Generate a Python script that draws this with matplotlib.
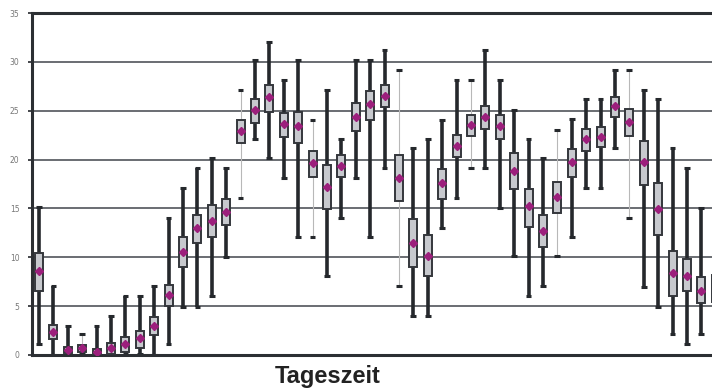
import numpy as np
import matplotlib.pyplot as plt

# half-hour slots of the day
slots = np.arange(1, 49)

whisker_lo = [1.1, 0.0, 0.0, 0.1, 0.0, 0.1, 0.2, 0.1, 0.0, 1.1,
              4.9, 4.9, 6.0, 10.0, 16.1, 22.1, 20.2, 18.1, 12.1, 12.1,
              8.1, 14.0, 18.1, 12.1, 19.1, 7.1, 4.0, 4.0, 13.0, 16.1,
              19.1, 19.1, 15.0, 10.1, 6.0, 7.1, 10.1, 12.1, 17.1, 17.1,
              21.2, 14.0, 7.0, 4.9, 2.1, 1.1, 2.1, 1.5]
whisker_hi = [15.1, 7.1, 3.0, 2.1, 3.0, 4.0, 6.0, 6.0, 7.1, 14.0,
              17.1, 19.1, 20.2, 19.1, 27.1, 30.2, 32.0, 28.1, 30.2, 24.1,
              27.1, 22.1, 30.2, 30.2, 31.2, 29.2, 21.2, 22.1, 24.1, 28.1,
              28.1, 31.2, 28.1, 25.1, 22.1, 20.2, 23.0, 24.2, 26.2, 26.2,
              29.2, 29.2, 27.1, 26.2, 21.2, 19.1, 15.0, 14.0]
q1 = [6.5, 1.6, 0.2, 0.3, 0.0, 0.15, 0.3, 0.7, 2.0, 5.0,
      9.0, 11.5, 12.1, 13.3, 21.7, 23.7, 24.9, 22.3, 21.7, 18.2,
      14.9, 18.2, 22.9, 24.0, 25.4, 15.8, 9.0, 8.1, 16.0, 20.3,
      22.4, 23.1, 22.1, 17.0, 13.1, 11.1, 14.5, 18.2, 20.9, 21.3,
      24.4, 22.4, 17.4, 12.3, 6.0, 6.5, 5.3, 5.4]
q3 = [10.4, 3.1, 0.8, 1.0, 0.6, 1.2, 1.8, 2.5, 3.9, 7.2,
      12.1, 14.3, 15.4, 16.0, 24.0, 26.2, 27.6, 24.8, 24.9, 20.9,
      19.4, 20.5, 25.8, 27.0, 27.6, 20.5, 13.9, 12.3, 19.0, 22.5,
      24.6, 25.5, 24.6, 20.7, 17.0, 14.3, 17.7, 21.1, 23.1, 23.3,
      26.4, 25.2, 21.9, 17.6, 10.6, 9.8, 8.0, 8.2]
means = [8.6, 2.35, 0.5, 0.7, 0.3, 0.7, 1.1, 1.7, 3.0, 6.1,
         10.5, 13.0, 13.7, 14.6, 22.9, 25.1, 26.4, 23.6, 23.4, 19.7,
         17.2, 19.3, 24.4, 25.7, 26.5, 18.1, 11.5, 10.1, 17.6, 21.4,
         23.5, 24.4, 23.4, 18.8, 15.2, 12.7, 16.2, 19.8, 22.1, 22.3,
         25.5, 23.8, 19.8, 14.9, 8.4, 8.1, 6.6, 6.7]
# slots whose whisker is drawn as a thin grey line
thin = [4, 15, 20, 26, 31, 37, 42]

fig = plt.figure(figsize=(7.12, 3.92), dpi=100)
ax = fig.add_axes([32 / 712, 37 / 392, 1 - 32 / 712, (355 - 13) / 392])

dark = '#25282c'
grid_c = '#50545a'

for y in range(5, 35, 5):
    ax.axhline(y, color=grid_c, lw=1.2, zorder=1)

is_thin = np.isin(slots, thin)
lo = np.array(whisker_lo)
hi = np.array(whisker_hi)

ax.vlines(slots[~is_thin], lo[~is_thin], hi[~is_thin], color=dark, lw=2.6, zorder=2)
ax.vlines(slots[is_thin], lo[is_thin], hi[is_thin], color='#b8b8b8', lw=0.8, zorder=2)
for vals in (lo, hi):
    ax.hlines(vals, slots - 0.2, slots + 0.2, color=dark, lw=2.2, zorder=2)

ax.bar(slots, np.array(q3) - np.array(q1), bottom=q1, width=0.55,
       color='#c7c9ce', edgecolor='#34373c', linewidth=1.4, zorder=3)
ax.plot(slots, means, 'D', color='#9c1f7c', ms=4.5, zorder=4)

ax.set_xlim(0.514, 47.74)
ax.set_ylim(0, 35)
ax.set_yticks(range(0, 40, 5))
ax.set_yticklabels([str(v) for v in range(0, 40, 5)], fontsize=5.5, color='#777777')
ax.set_xticks([])
ax.tick_params(axis='y', length=3, width=1.2, color=dark, pad=6)

for side in ('left', 'top', 'bottom'):
    ax.spines[side].set_color('#2c2f33')
    ax.spines[side].set_linewidth(2.2)
ax.spines['right'].set_visible(False)

fig.text(328 / 712, 1 - 377 / 392, 'Tageszeit', fontsize=17, fontweight='bold',
         family='Liberation Sans', color='#222222', ha='center', va='center')

fig.savefig('out.png', dpi=100)
